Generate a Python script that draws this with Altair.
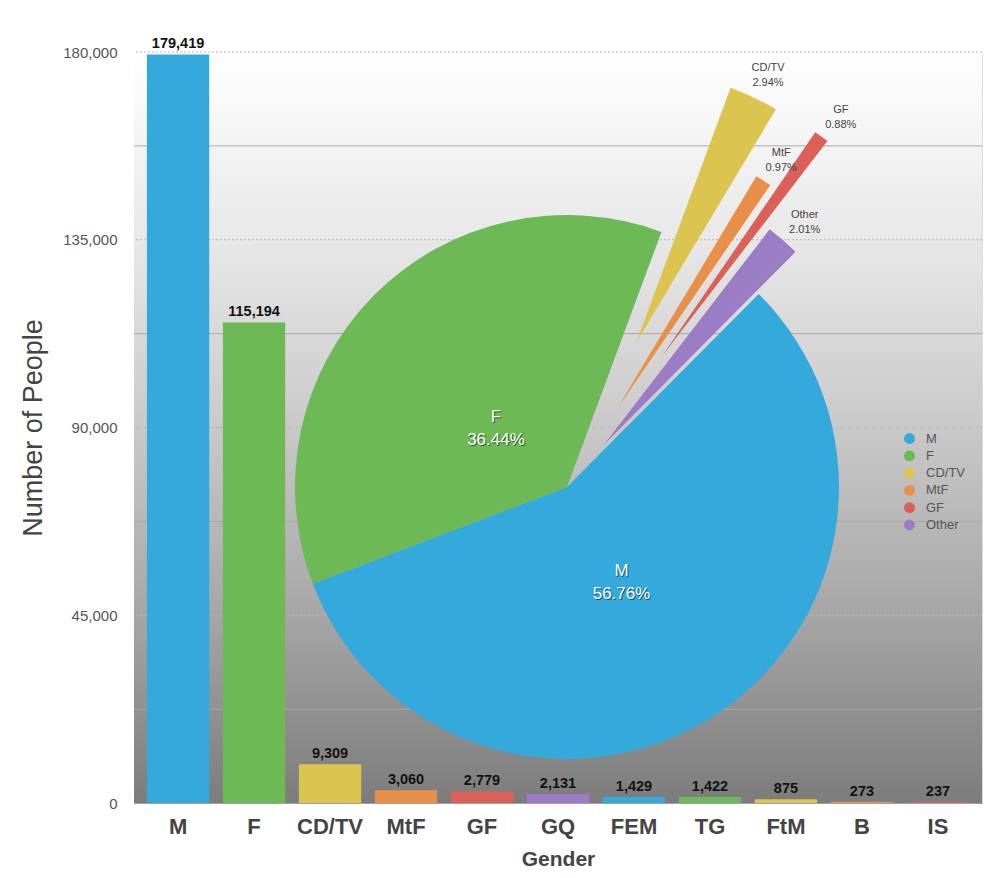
import math
import altair as alt
import pandas as pd

# ---- data ----
genders = ["M", "F", "CD/TV", "MtF", "GF", "GQ", "FEM", "TG", "FtM", "B", "IS"]
counts = [179419, 115194, 9309, 3060, 2779, 2131, 1429, 1422, 875, 273, 237]

pie_labels = ["M", "F", "CD/TV", "MtF", "GF", "Other"]
pie_pct = [56.76, 36.44, 2.94, 0.97, 0.88, 2.01]

y_major = [45000, 90000, 135000, 180000]
y_minor = [22500, 67500, 112500, 157500]
y_ticks = [0, 45000, 90000, 135000, 180000]

# ---- style ----
palette = ["#34a9db", "#6cb956", "#dcc54f", "#e8904a", "#db6057", "#9a7dc5"]
explode_px = [0, 0, 160, 92, 161, 56]
W, H = 848, 751
CX, CY, R = 433, 435, 272
A0 = math.radians(44.8)
FONT = "Liberation Sans"

bars = pd.DataFrame({
    "gender": genders,
    "count": counts,
    "col": [palette[i % len(palette)] for i in range(len(genders))],
})
pie = pd.DataFrame({
    "gender": pie_labels,
    "pct": pie_pct,
    "idx": list(range(len(pie_labels))),
    "explode": explode_px,
})
grid_major = pd.DataFrame({"count": y_major})
grid_minor = pd.DataFrame({"count": y_minor})

bg = alt.Chart(pd.DataFrame({"a": [0]})).mark_rect(
    fill=alt.LinearGradient(
        gradient="linear", x1=0, x2=0, y1=0, y2=1,
        stops=[
            alt.GradientStop(color="#ffffff", offset=0),
            alt.GradientStop(color="#e8e8e8", offset=0.25),
            alt.GradientStop(color="#c9c9c9", offset=0.5),
            alt.GradientStop(color="#a6a6a6", offset=0.75),
            alt.GradientStop(color="#7c7c7c", offset=1),
        ],
    )
).encode(x=alt.value(0), x2=alt.value(W), y=alt.value(0), y2=alt.value(H))

yscale = alt.Scale(domain=[0, 180000])
yaxis = alt.Axis(
    values=y_ticks, labelExpr="format(datum.value, ',')", grid=False, ticks=False,
    labelFont=FONT, labelFontSize=15, labelColor="#555555", labelPadding=17,
    titleFont=FONT, titleFontSize=27, titleFontWeight="normal", titleColor="#444444",
    titlePadding=15, domainColor="#a0a0a0",
)


def yenc():
    return alt.Y("count:Q", scale=yscale, title="Number of People", axis=yaxis)


minor = alt.Chart(grid_minor).mark_rule(color="#a9a9a9", strokeWidth=1).encode(y=yenc())
major = alt.Chart(grid_major).mark_rule(color="#b5b5b5", strokeWidth=1, strokeDash=[2, 2]).encode(y=yenc())

xscale = alt.Scale(paddingInner=0.18, paddingOuter=0.17)
xaxis = alt.Axis(
    labelAngle=0, labelFont=FONT, labelFontSize=22, labelFontWeight="bold",
    labelColor="#444444", labelPadding=13, ticks=False,
    titleFont=FONT, titleFontSize=21, titleFontWeight="bold", titleColor="#444444",
    titlePadding=11, domainColor="#a0a0a0",
)


def xenc():
    return alt.X("gender:N", sort=genders, title="Gender", scale=xscale, axis=xaxis)


bar = alt.Chart(bars).mark_bar().encode(
    x=xenc(), y=yenc(), color=alt.Color("col:N", scale=None)
)
bar_text = alt.Chart(bars).mark_text(
    baseline="bottom", dy=-3, font=FONT, fontSize=14.5, fontWeight="bold", color="#111111"
).encode(x=xenc(), y=yenc(), text=alt.Text("count:Q", format=","))

pie_base = alt.Chart(pie).transform_window(
    cum="sum(pct)", sort=[alt.SortField("idx")], frame=[None, 0]
).transform_joinaggregate(
    total="sum(pct)"
).transform_calculate(
    t0=f"{A0} + 2*PI*(datum.cum - datum.pct)/datum.total",
    t1=f"{A0} + 2*PI*datum.cum/datum.total",
).transform_calculate(
    mid="(datum.t0 + datum.t1)/2",
).transform_calculate(
    cx=f"{CX} + datum.explode*sin(datum.mid)",
    cy=f"{CY} - datum.explode*cos(datum.mid)",
    lr=f"datum.explode > 0 ? {R} + datum.explode + 33 : 100",
    txt="datum.gender + '\\n' + format(datum.pct, '.2f') + '%'",
).transform_calculate(
    lx=f"{CX} + datum.lr*sin(datum.mid)",
    ly=f"{CY} - datum.lr*cos(datum.mid)",
)

arcs = pie_base.mark_arc(outerRadius=R).encode(
    theta=alt.Theta("t0:Q", scale=None),
    theta2="t1:Q",
    x=alt.X("cx:Q", scale=None, axis=None),
    y=alt.Y("cy:Q", scale=None, axis=None),
    color=alt.Color(
        "gender:N",
        scale=alt.Scale(domain=pie_labels, range=palette),
        sort=pie_labels,
        legend=alt.Legend(
            title=None, orient="none", legendX=769, legendY=380,
            symbolType="circle", symbolSize=120, symbolStrokeWidth=0,
            labelFont=FONT, labelFontSize=13, labelColor="#555555",
            rowPadding=3.3, labelOffset=10, padding=0,
        ),
    ),
)

big = pie_base.transform_filter("datum.explode == 0")
shadow = big.mark_text(
    lineBreak="\n", dx=1, dy=1.5, font=FONT, fontSize=17, color="#000000",
    opacity=0.55, lineHeight=23, align="center", baseline="middle",
).encode(x=alt.X("lx:Q", scale=None, axis=None), y=alt.Y("ly:Q", scale=None, axis=None), text="txt:N")
white = big.mark_text(
    lineBreak="\n", font=FONT, fontSize=17, color="#ffffff",
    lineHeight=23, align="center", baseline="middle",
).encode(x=alt.X("lx:Q", scale=None, axis=None), y=alt.Y("ly:Q", scale=None, axis=None), text="txt:N")
small = pie_base.transform_filter("datum.explode > 0").mark_text(
    lineBreak="\n", font=FONT, fontSize=11, color="#444444",
    lineHeight=15, align="center", baseline="middle",
).encode(x=alt.X("lx:Q", scale=None, axis=None), y=alt.Y("ly:Q", scale=None, axis=None), text="txt:N")

chart = alt.layer(bg, minor, major, bar, bar_text, arcs, shadow, white, small).properties(
    width=W, height=H,
    padding={"left": 126, "top": 44, "right": 14, "bottom": 67},
    autosize="none",
).configure_view(stroke=None).configure(background="#ffffff")

chart.save("out.html", embed_options={"renderer": "svg", "actions": False})
